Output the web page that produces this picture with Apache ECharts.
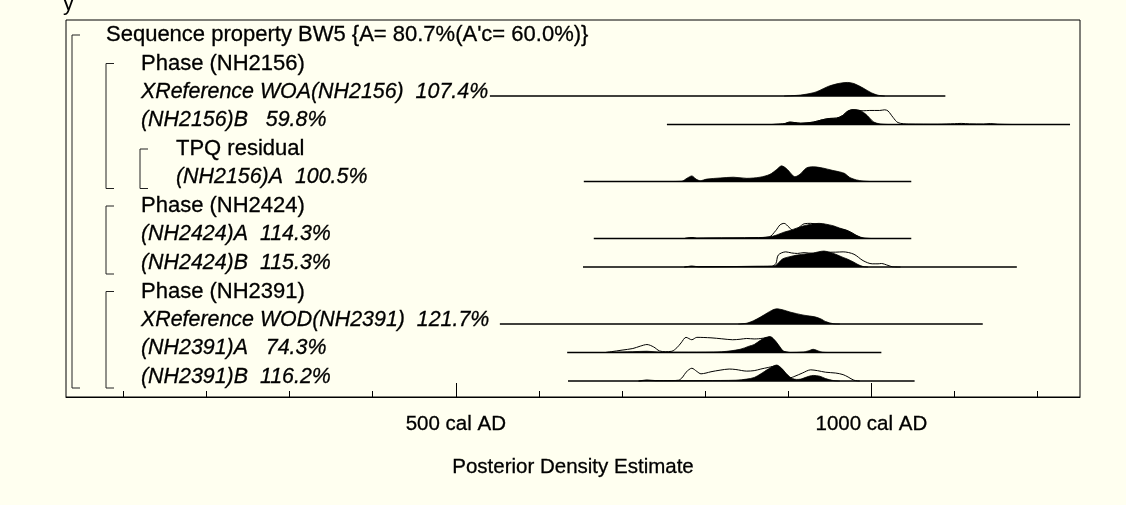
<!DOCTYPE html>
<html lang="en">
<head>
<meta charset="UTF-8">
<title>Posterior Density Estimate</title>
<script src="https://cdn.jsdelivr.net/npm/echarts@6/dist/echarts.min.js"></script>
<style>
    * { margin: 0; padding: 0; }
    html, body { width: 100%; height: 100%; background: #fffff0; }
    #main { width: 1126px; height: 505px; }
</style>
</head>
<body>
<div id="main"></div>
<script>
// rows, top to bottom
var rowLabels = [
    "Sequence property BW5 {A= 80.7%(A'c= 60.0%)}",
    "Phase (NH2156)",
    "XReference WOA(NH2156)  107.4%",
    "(NH2156)B   59.8%",
    "TPQ residual",
    "(NH2156)A  100.5%",
    "Phase (NH2424)",
    "(NH2424)A  114.3%",
    "(NH2424)B  115.3%",
    "Phase (NH2391)",
    "XReference WOD(NH2391)  121.7%",
    "(NH2391)A   74.3%",
    "(NH2391)B  116.2%"
];
var rowItalic = [false, false, true, true, false, true, false, true, true, false, true, true, true];
var rowLevel = [0, 1, 1, 1, 2, 2, 1, 1, 1, 1, 1, 1, 1];
// [first row, last row, level]
var brackets = [[0, 12, 0], [1, 5, 1], [4, 5, 2], [6, 8, 1], [9, 12, 1]];

// ranges (cal AD) of the plotted rows
var rangeRows  = [2, 3, 5, 7, 8, 10, 11, 12];
var rangeStart = [541, 754, 654, 666, 653, 553, 634, 635];
var rangeEnd   = [1089, 1239, 1048, 1048, 1175, 1134, 1012, 1052];

var minorTicks = [100, 200, 300, 400, 500, 600, 700, 800, 900, 1000, 1100, 1200];
var majorTicks = [500, 1000];

// [cal AD, relative probability]
var postWOA = [[895,0],[915,0.06],[930,0.2],[937,0.33],[948,0.6],[960,0.78],[971,0.85],[979,0.78],[990,0.5],[1000,0.2],[1008,0.05],[1016,0]];

var post2156B = [[880,0],[895,0.05],[902,0.15],[908,0.12],[915,0.08],[930,0.15],[941,0.3],[950,0.38],[958,0.4],[965,0.55],[972,0.85],[978,0.93],[985,0.9],[992,0.7],[998,0.4],[1003,0.15],[1010,0.04],[1020,0]];
var prior2156B = [[880,0],[895,0.05],[902,0.15],[908,0.12],[915,0.08],[930,0.15],[941,0.3],[950,0.38],[958,0.4],[965,0.55],[972,0.85],[978,0.93],[985,0.88],[990,0.86],[998,0.88],[1010,0.88],[1016,0.92],[1020,0.85],[1026,0.45],[1032,0.12],[1045,0.03],[1080,0.02],[1100,0.05],[1108,0.07],[1118,0.04],[1135,0.03],[1143,0.06],[1152,0.02],[1170,0]];

var post2156A = [[760,0],[772,0.02],[778,0.2],[784,0.35],[789,0.15],[794,0.05],[802,0.15],[818,0.22],[834,0.27],[850,0.2],[866,0.27],[878,0.45],[886,0.75],[892,0.98],[899,0.75],[904,0.45],[908,0.3],[914,0.45],[922,0.85],[930,0.92],[941,0.85],[953,0.7],[962,0.6],[968,0.5],[974,0.25],[982,0.1],[990,0.03],[998,0]];

var post2424A = [[775,0],[784,0.06],[790,0.02],[807,0.03],[860,0.05],[877,0.1],[885,0.2],[895,0.4],[902,0.5],[910,0.65],[919,0.8],[928,0.9],[937,0.95],[945,0.9],[954,0.8],[962,0.65],[971,0.5],[978,0.3],[984,0.15],[990,0.04],[1000,0]];
var prior2424A = [[775,0],[784,0.06],[790,0.02],[807,0.03],[860,0.05],[877,0.1],[885,0.5],[890,0.85],[895,0.95],[901,0.7],[907,0.45],[913,0.7],[919,0.92],[927,0.95],[937,0.88],[945,0.82],[954,0.72],[962,0.6],[968,0.55],[977,0.35],[984,0.12],[990,0.02],[1000,0]];

var post2424B = [[775,0],[784,0.05],[792,0.02],[860,0.04],[880,0.05],[885,0.1],[893,0.5],[902,0.65],[911,0.75],[921,0.82],[930,0.88],[943,1.0],[950,0.92],[957,0.8],[966,0.6],[971,0.5],[979,0.3],[984,0.15],[990,0.03],[996,0]];
var prior2424B = [[775,0],[784,0.05],[792,0.02],[860,0.04],[880,0.05],[885,0.2],[888,0.75],[897,0.95],[904,0.88],[911,0.85],[919,0.9],[930,0.85],[945,0.92],[957,0.93],[966,0.95],[979,0.8],[990,0.4],[1001,0.2],[1008,0.2],[1012,0.22],[1020,0.1],[1025,0.02],[1035,0]];

var postWOD = [[840,0],[850,0.05],[858,0.2],[867,0.45],[875,0.7],[880,0.85],[886,0.95],[894,0.88],[902,0.75],[910,0.65],[919,0.55],[932,0.45],[940,0.3],[945,0.15],[954,0.02],[962,0]];

var post2391A = [[680,0],[687,0.02],[713,0.05],[730,0.08],[747,0.02],[780,0.02],[820,0.05],[842,0.2],[853,0.4],[859,0.5],[866,0.75],[872,0.92],[878,1.0],[885,0.7],[890,0.35],[894,0.1],[902,0],[918,0.03],[924,0.1],[930,0.2],[936,0.1],[941,0.02],[948,0]];
var prior2391A = [[680,0],[687,0.05],[700,0.15],[713,0.25],[722,0.4],[730,0.5],[738,0.35],[745,0.1],[752,0.05],[760,0.08],[766,0.3],[771,0.6],[777,0.95],[784,0.8],[790,0.95],[807,0.92],[820,0.86],[833,0.8],[842,0.83],[850,0.88],[859,0.85],[864,0.86],[870,0.9],[878,0.95],[885,0.6],[890,0.3],[894,0.08],[902,0]];

var post2391B = [[720,0],[730,0.04],[740,0.02],[800,0.03],[837,0.05],[850,0.12],[859,0.22],[867,0.45],[876,0.75],[886,1.0],[892,0.8],[897,0.5],[902,0.25],[905,0.15],[910,0.1],[915,0.12],[922,0.25],[930,0.35],[938,0.3],[945,0.15],[954,0.03],[962,0]];
var prior2391B = [[720,0],[730,0.06],[740,0.03],[760,0.03],[768,0.05],[773,0.25],[777,0.55],[784,0.8],[790,0.6],[795,0.45],[801,0.5],[807,0.58],[818,0.68],[829,0.75],[837,0.72],[850,0.62],[859,0.65],[867,0.75],[876,0.85],[886,0.95],[892,0.75],[897,0.45],[902,0.2],[908,0.3],[917,0.5],[927,0.7],[935,0.65],[945,0.55],[957,0.5],[966,0.4],[972,0.25],[979,0.05],[986,0]];

var dists = [
    { row: 2, post: postWOA },
    { row: 3, post: post2156B, prior: prior2156B },
    { row: 5, post: post2156A },
    { row: 7, post: post2424A, prior: prior2424A },
    { row: 8, post: post2424B, prior: prior2424B },
    { row: 10, post: postWOD },
    { row: 11, post: post2391A, prior: prior2391A },
    { row: 12, post: post2391B, prior: prior2391B }
];

var FONT = "'Liberation Sans', Arial, sans-serif";
var FS = 22;      // group labels
var IFS = 21.4;   // italic model labels
var AFS = 20.5;   // axis texts
var H = 0.56; // row height units per unit of density
var rowBase = function (i) { return rowLabels.length - 1 - i; };
var lift = function (row, pts) {
    return pts.map(function (p) { return [p[0], rowBase(row) + p[1] * H]; });
};

var series = [];
rangeRows.forEach(function (r, k) {
    series.push({
        type: 'line', symbol: 'none', silent: true, z: 3,
        data: [[rangeStart[k], rowBase(r)], [rangeEnd[k], rowBase(r)]],
        lineStyle: { color: '#000', width: 1.5 }
    });
});
dists.forEach(function (d) {
    if (d.prior) {
        series.push({
            type: 'line', symbol: 'none', silent: true, smooth: 0.3, z: 4,
            data: lift(d.row, d.prior),
            lineStyle: { color: '#000', width: 1 }
        });
    }
    series.push({
        type: 'line', symbol: 'none', silent: true, smooth: 0.3, z: 5,
        data: lift(d.row, d.post),
        lineStyle: { color: '#000', width: 0.8 },
        areaStyle: { color: '#000', opacity: 1, origin: rowBase(d.row) }
    });
});

// row labels
series.push({
    type: 'custom', silent: true, clip: false, z: 6,
    data: rowLabels.map(function (t, i) { return [31, rowBase(i), i]; }),
    renderItem: function (params, api) {
        var i = api.value(2);
        var p = api.coord([api.value(0), api.value(1)]);
        return {
            type: 'text',
            style: {
                text: rowLabels[i],
                x: params.coordSys.x + 40 + 35 * rowLevel[i],
                y: p[1] - 4,
                fill: '#000',
                stroke: '#000',
                lineWidth: 0.3,
                fontSize: rowItalic[i] ? IFS : FS,
                fontFamily: FONT,
                fontStyle: rowItalic[i] ? 'italic' : 'normal',
                verticalAlign: 'middle'
            }
        };
    }
});

// brackets
series.push({
    type: 'custom', silent: true, clip: false, z: 6,
    data: brackets.map(function (b) { return [31, rowBase(b[0]), rowBase(b[1]), b[2]]; }),
    renderItem: function (params, api) {
        var top = api.coord([api.value(0), api.value(1)])[1] - 4;
        var bot = api.coord([api.value(0), api.value(2)])[1] + 7;
        var x = params.coordSys.x + 6 + 34 * api.value(3);
        return {
            type: 'polyline',
            shape: { points: [[x + 8, top], [x, top], [x, bot], [x + 8, bot]] },
            style: { stroke: '#222', lineWidth: 1, fill: null }
        };
    }
});

var chart = echarts.init(document.getElementById('main'));
chart.setOption({
    backgroundColor: '#fffff0',
    animation: false,
    textStyle: { fontFamily: FONT },
    graphic: [{
        type: 'text', left: 63, top: -7,
        style: { text: 'y', fontSize: FS, fontFamily: FONT, fill: '#000' }
    }],
    grid: {
        left: 66, top: 20, right: 46, bottom: 108,
        show: true, borderColor: '#000', borderWidth: 1
    },
    xAxis: [{
        type: 'value', min: 31, max: 1251,
        axisLine: { show: true, onZero: false, lineStyle: { color: '#000', width: 1 } },
        axisTick: { show: true, inside: true, length: 6, customValues: minorTicks, lineStyle: { color: '#000' } },
        axisLabel: { show: false },
        splitLine: { show: false }
    }, {
        type: 'value', min: 31, max: 1251, position: 'bottom',
        axisLine: { show: false, onZero: false },
        axisTick: { show: true, inside: true, length: 14, customValues: majorTicks, lineStyle: { color: '#000' } },
        axisLabel: {
            customValues: majorTicks, margin: 17, color: '#000', fontSize: AFS, fontFamily: FONT,
            textBorderColor: '#000', textBorderWidth: 0.3,
            formatter: function (v) { return v + ' cal AD'; }
        },
        splitLine: { show: false },
        name: 'Posterior Density Estimate',
        nameLocation: 'middle', nameGap: 60,
        nameTextStyle: {
            color: '#000', fontSize: AFS, fontFamily: FONT, verticalAlign: 'top',
            textBorderColor: '#000', textBorderWidth: 0.3
        }
    }],
    yAxis: {
        type: 'value', min: -0.561, max: 12.667, show: false,
        splitLine: { show: false }
    },
    series: series
});
</script>
</body>
</html>
